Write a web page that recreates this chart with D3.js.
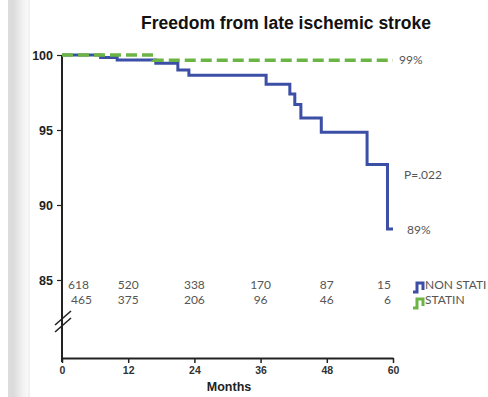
<!DOCTYPE html>
<html>
<head>
<meta charset="utf-8">
<script src="https://cdn.jsdelivr.net/npm/d3@7"></script>
<style>
  html, body { margin: 0; padding: 0; background: #fff; }
  svg { display: block; }
</style>
</head>
<body>
<svg id="chart" width="488" height="397"></svg>
<script>
// Kaplan-Meier: freedom from late ischemic stroke (%)
const title = "Freedom from late ischemic stroke";
const yTicks = [100, 95, 90, 85];
const xTicks = [0, 12, 24, 36, 48, 60];

// Step curves: [month, percent free]
const nonStatin = [
  [0, 100], [7, 99.83], [10, 99.67], [17, 99.45], [21, 99.0], [23, 98.65],
  [37, 98.05], [41.3, 97.4], [42.2, 96.7], [43.3, 95.8], [47, 94.85],
  [55.3, 92.7], [59, 88.4], [60, 88.4]
];
const statin = [[0, 100], [16.5, 99.65], [60, 99.65]];

// Numbers at risk
const riskMonths = [0, 12, 24, 36, 48, 60];
const riskNonStatin = [618, 520, 338, 170, 87, 15];
const riskStatin = [465, 375, 206, 96, 46, 6];

const seriesNames = ["NON STATI", "STATIN"];
const endLabels = ["89%", "99%"];
const pLabel = "P=.022";

const blue = "#3c4fa6", green = "#6cb544", ink = "#222", grey = "#555";

const svg = d3.select("#chart");

// slide edge shading on the left
const defs = svg.append("defs");
const grad = defs.append("linearGradient").attr("id", "edge").attr("x1", "0").attr("x2", "1");
grad.append("stop").attr("offset", "0").attr("stop-color", "#dddddd");
grad.append("stop").attr("offset", "0.25").attr("stop-color", "#dbdbdb");
grad.append("stop").attr("offset", "0.7").attr("stop-color", "#f1f1f1");
grad.append("stop").attr("offset", "1").attr("stop-color", "#fbfbfb");
svg.append("rect").attr("x", 8).attr("y", 0).attr("width", 21).attr("height", 397).attr("fill", "url(#edge)");
svg.append("line").attr("x1", 29).attr("x2", 29).attr("y1", 0).attr("y2", 397)
  .attr("stroke", "#e6e6e6").attr("stroke-width", 1);

const x = d3.scaleLinear().domain([0, 60]).range([62, 393]);
const y = d3.scaleLinear().domain([85, 100]).range([280, 55]);
const axisY = 358;

// title
svg.append("text").attr("x", 286).attr("y", 29).attr("text-anchor", "middle")
  .attr("font-family", "Liberation Sans, Arial, sans-serif").attr("font-weight", "bold")
  .attr("font-size", 17.5).attr("fill", "#111").text(title);

// y axis
const yAxis = d3.axisLeft(y).tickValues(yTicks).tickSize(5).tickSizeOuter(0);
const gy = svg.append("g").attr("transform", `translate(${x(0)},0)`).call(yAxis);
gy.select(".domain").remove();
gy.selectAll(".tick line").attr("stroke", ink).attr("stroke-width", 1.2);
gy.selectAll(".tick text").attr("font-family", "Liberation Sans, Arial, sans-serif")
  .attr("font-weight", "bold").attr("font-size", 12.5).attr("fill", ink).attr("x", -9);
svg.append("line").attr("x1", x(0)).attr("x2", x(0)).attr("y1", y(100)).attr("y2", axisY + 4)
  .attr("stroke", ink).attr("stroke-width", 2);

// axis break marks
[0, 7].forEach(d => {
  svg.append("line").attr("x1", 55).attr("y1", 325 + d).attr("x2", 71).attr("y2", 311 + d)
    .attr("stroke", ink).attr("stroke-width", 1.6);
});

// x axis
const xAxis = d3.axisBottom(x).tickValues(xTicks).tickSize(5).tickSizeOuter(0);
const gx = svg.append("g").attr("transform", `translate(0,${axisY})`).call(xAxis);
gx.select(".domain").attr("stroke", ink).attr("stroke-width", 2);
gx.selectAll(".tick line").attr("stroke", ink).attr("stroke-width", 1.5);
gx.selectAll(".tick text").attr("font-family", "Liberation Sans Narrow, Liberation Sans, sans-serif")
  .attr("font-weight", "bold").attr("font-size", 10.5).attr("fill", "#333").attr("y", 9);
svg.append("text").attr("x", 229).attr("y", 391).attr("text-anchor", "middle")
  .attr("font-family", "Liberation Sans, Arial, sans-serif").attr("font-weight", "bold")
  .attr("font-size", 12.5).attr("fill", ink).text("Months");

// survival curves
const line = d3.line().x(d => x(d[0])).y(d => y(d[1])).curve(d3.curveStepAfter);
svg.append("path").datum(nonStatin).attr("d", line).attr("fill", "none")
  .attr("stroke", blue).attr("stroke-width", 3);
svg.append("path").datum(statin).attr("d", line).attr("fill", "none")
  .attr("stroke", green).attr("stroke-width", 3.5).attr("stroke-dasharray", "11,5");

// annotations
const note = (tx, ty, s) => svg.append("text").attr("x", tx).attr("y", ty)
  .attr("font-family", "Lato, Open Sans, sans-serif").attr("font-size", 12).attr("fill", grey).text(s);
note(x(60) + 6, y(statin[statin.length - 1][1]) + 4, endLabels[1]);
note(x(60) + 14, y(nonStatin[nonStatin.length - 1][1]) + 5, endLabels[0]);
note(x(60) + 11, 179, pLabel);

// numbers at risk
const riskRows = [riskNonStatin, riskStatin];
riskRows.forEach((row, r) => {
  row.forEach((v, i) => {
    const last = i === row.length - 1;
    const first = i === 0;
    svg.append("text")
      .attr("x", first ? x(riskMonths[i]) + 6 + r * 3 : last ? x(riskMonths[i]) - 2 : x(riskMonths[i]))
      .attr("y", 289 + r * 15)
      .attr("text-anchor", first ? "start" : last ? "end" : "middle")
      .attr("font-family", "Lato, Open Sans, sans-serif").attr("font-size", 12).attr("fill", grey)
      .text(v);
  });
});

// legend with step glyphs
const glyph = [[0, 10], [4, 10], [4, 1], [10, 1], [10, 8]];
[blue, green].forEach((c, i) => {
  const gy0 = 282 + i * 16;
  svg.append("path")
    .attr("d", d3.line()(glyph.map(p => [413 + p[0], gy0 + p[1]])))
    .attr("fill", "none").attr("stroke", c).attr("stroke-width", 3);
  svg.append("text").attr("x", 425).attr("y", 289 + i * 15)
    .attr("font-family", "Lato, Open Sans, sans-serif").attr("font-size", 12).attr("fill", grey)
    .text(seriesNames[i]);
});
</script>
</body>
</html>
